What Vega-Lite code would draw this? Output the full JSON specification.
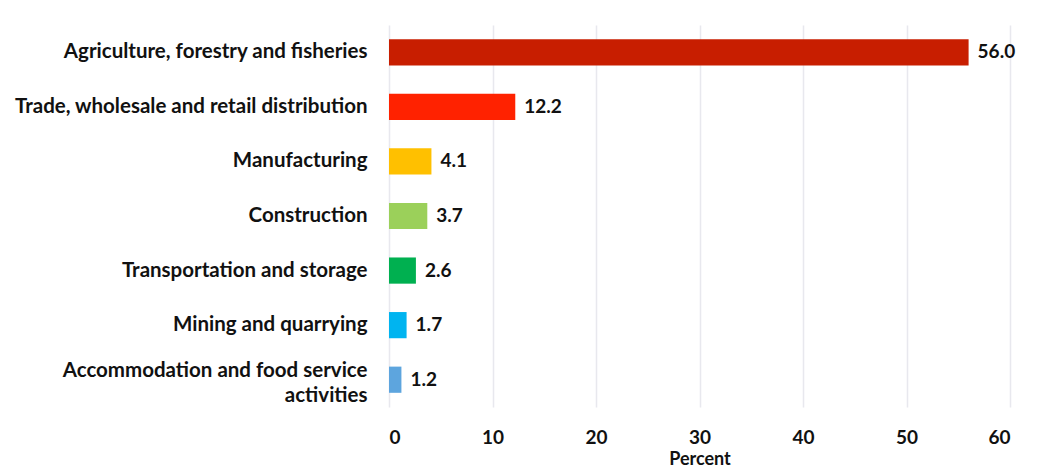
{
  "$schema": "https://vega.github.io/schema/vega-lite/v6.json",
  "autosize": "none",
  "width": 621,
  "height": 382,
  "padding": {"left": 389, "top": 25, "right": 36, "bottom": 61},
  "background": "white",
  "data": {"values": [
    {"sector": "Agriculture, forestry and fisheries", "pct": 56.0, "label": "56.0", "color": "#C81E00"},
    {"sector": "Trade, wholesale and retail distribution", "pct": 12.2, "label": "12.2", "color": "#FF2200"},
    {"sector": "Manufacturing", "pct": 4.1, "label": "4.1", "color": "#FFC000"},
    {"sector": "Construction", "pct": 3.7, "label": "3.7", "color": "#9BD05A"},
    {"sector": "Transportation and storage", "pct": 2.6, "label": "2.6", "color": "#00B050"},
    {"sector": "Mining and quarrying", "pct": 1.7, "label": "1.7", "color": "#00B4F0"},
    {"sector": "Accommodation and food service activities", "pct": 1.2, "label": "1.2", "color": "#5DA5DE"}
  ]},
  "encoding": {
    "y": {
      "field": "sector", "type": "nominal", "sort": null,
      "scale": {"paddingInner": 0.52, "paddingOuter": 0.26},
      "axis": {
        "title": null, "domain": false, "ticks": false, "labelPadding": 22,
        "labelFont": "Lato", "labelFontWeight": "bold", "labelFontSize": 20.5, "labelColor": "#111111",
        "labelLimit": 600, "labelLineHeight": 25,
        "labelOffset": {"condition": {"test": "datum.value == 'Accommodation and food service activities'", "value": -9}, "value": 0},
        "labelExpr": "datum.label == 'Accommodation and food service activities' ? ['Accommodation and food service', 'activities'] : datum.label"
      }
    },
    "x": {
      "field": "pct", "type": "quantitative",
      "scale": {"domain": [0, 60], "nice": false},
      "axis": {
        "title": "Percent", "values": [0, 10, 20, 30, 40, 50, 60], "domain": false, "ticks": false,
        "grid": true, "gridColor": "#e8e8ee", "gridWidth": 1.5,
        "labelFont": "Lato", "labelFontWeight": "bold", "labelFontSize": 19, "labelColor": "#111111", "labelPadding": 21,
        "titleFont": "Lato", "titleFontWeight": "bold", "titleFontSize": 18, "titleColor": "#111111", "titlePadding": 3
      }
    }
  },
  "layer": [
    {"mark": {"type": "bar"}, "encoding": {"color": {"field": "color", "type": "nominal", "scale": null}}},
    {"mark": {"type": "text", "align": "left", "dx": 9, "font": "Lato", "fontWeight": "bold", "fontSize": 19, "color": "#111111"},
     "encoding": {"text": {"field": "label"}}}
  ],
  "config": {"view": {"stroke": null}}
}
